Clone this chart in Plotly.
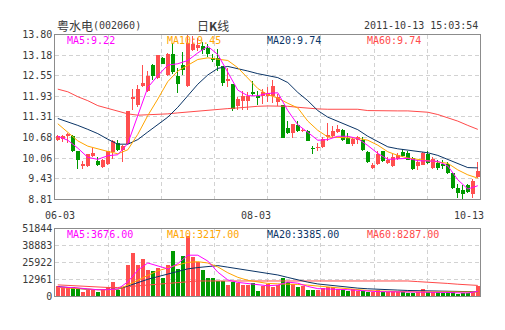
import plotly.graph_objects as go

# ---------------- data ----------------
idx = list(range(85))
opens = [10.60, 10.64, 10.73, 10.74, 10.26, 9.81, 9.81, 10.13, 9.98, 9.79,
         9.87, 10.23, 10.53, 10.30, 10.48, 11.85, 11.66, 12.25, 12.10, 12.89,
         12.49, 13.08, 12.59, 13.23, 12.54, 12.89, 12.25, 13.33, 13.40, 13.45,
         13.41, 13.11, 13.08, 12.84, 12.41, 12.30, 11.64, 11.80, 11.78, 12.05,
         11.93, 11.93, 11.95, 11.95, 11.76, 11.66, 10.97, 10.82, 11.07, 10.87,
         10.87, 10.36, 10.36, 10.38, 10.69, 10.72, 10.85, 10.92, 10.67, 10.48,
         10.62, 10.62, 10.23, 9.77, 9.87, 10.26, 9.91, 9.81, 10.04, 10.23,
         10.20, 10.06, 9.81, 9.84, 10.18, 9.77, 9.91, 9.89, 9.87, 9.61,
         9.15, 9.10, 9.25, 8.98, 9.49]
closes = [10.72, 10.74, 10.80, 10.28, 10.01, 9.89, 10.18, 10.20, 9.84, 10.00,
          10.26, 10.58, 10.30, 10.43, 11.49, 11.90, 12.15, 12.33, 12.56, 12.56,
          13.18, 12.92, 13.21, 12.66, 12.30, 12.74, 13.55, 13.52, 13.48, 13.35,
          13.21, 13.03, 12.84, 12.33, 12.46, 11.56, 11.85, 11.95, 11.95, 11.99,
          11.87, 12.05, 12.02, 12.25, 11.90, 10.67, 10.82, 11.09, 10.87, 10.91,
          10.59, 10.32, 10.40, 10.65, 10.77, 10.89, 10.95, 10.62, 10.50, 10.65,
          10.69, 10.30, 9.94, 9.86, 10.18, 9.97, 10.01, 10.10, 10.16, 10.13,
          9.99, 9.74, 9.94, 10.20, 9.91, 10.03, 9.77, 9.81, 9.61, 9.15,
          9.00, 8.98, 9.02, 9.35, 9.67]
highs = [10.75, 10.76, 10.83, 10.76, 10.28, 9.97, 10.19, 10.36, 10.08, 10.02,
         10.27, 10.60, 10.60, 10.45, 11.50, 12.15, 12.27, 12.87, 12.69, 12.91,
         13.19, 13.13, 13.24, 13.55, 12.79, 13.28, 13.80, 13.75, 13.70, 13.58,
         13.53, 13.23, 13.38, 12.86, 12.79, 12.32, 11.90, 12.10, 12.05, 12.39,
         12.10, 12.15, 12.20, 12.42, 12.00, 11.68, 11.17, 11.10, 11.18, 10.97,
         10.92, 10.43, 10.53, 10.70, 11.12, 11.02, 11.05, 10.93, 10.82, 10.69,
         10.72, 10.69, 10.28, 9.91, 10.28, 10.26, 10.08, 10.18, 10.20, 10.33,
         10.28, 10.10, 9.99, 10.23, 10.26, 10.10, 9.99, 10.01, 9.94, 9.63,
         9.28, 9.25, 9.28, 9.42, 9.93]
lows = [10.58, 10.56, 10.53, 10.24, 9.74, 9.74, 9.79, 10.08, 9.81, 9.77,
        9.85, 10.02, 10.27, 9.93, 10.46, 11.51, 11.61, 12.22, 12.05, 12.44,
        12.45, 12.90, 12.55, 12.62, 12.03, 12.59, 12.22, 13.30, 13.30, 13.22,
        13.13, 12.98, 12.69, 12.25, 12.20, 11.50, 11.51, 11.51, 11.51, 11.93,
        11.66, 11.71, 11.75, 11.72, 11.64, 10.66, 10.80, 10.67, 10.86, 10.84,
        10.57, 10.18, 10.28, 10.36, 10.58, 10.67, 10.82, 10.57, 10.48, 10.43,
        10.48, 10.26, 9.91, 9.74, 9.84, 9.94, 9.89, 9.79, 9.99, 10.09,
        9.99, 9.71, 9.69, 9.84, 9.89, 9.74, 9.69, 9.74, 9.59, 9.12,
        8.86, 8.81, 9.00, 8.85, 9.44]
volumes = [7700, 7200, 6700, 6700, 6200, 3500, 4700, 4700, 3500, 4700,
           7200, 10900, 4700, 6700, 23600, 33300, 23600, 28300, 20400, 19600,
           21600, 14200, 23600, 34500, 20900, 31000, 46400, 30300, 26100, 19900,
           13700, 13700, 11700, 11700, 8400, 11200, 10400, 8700, 8400, 10400,
           4200, 7900, 9200, 7200, 8700, 13700, 10900, 9700, 6700, 7900,
           5000, 5000, 4700, 6000, 7200, 6700, 5500, 5000, 4200, 5500,
           3700, 3700, 3000, 3000, 4700, 3500, 3000, 4200, 3000, 3000,
           2500, 2500, 3000, 5500, 3000, 3000, 3500, 2500, 3000, 3000,
           1700, 2500, 2500, 3500, 8000]

# moving-average lines, read at every second session
ma_idx = list(range(0, 85, 2))
ma5 = [10.72, 10.60, 10.36, 10.08, 10.02, 10.13, 10.16, 10.50, 11.35, 12.20,
       12.56, 12.88, 12.92, 13.02, 13.25, 13.45, 13.20, 12.65, 12.12, 11.95,
       11.95, 12.02, 12.04, 11.50, 11.07, 10.84, 10.60, 10.62, 10.72, 10.72,
       10.65, 10.44, 10.20, 10.02, 10.03, 10.05, 9.98, 9.97, 9.96, 9.82,
       9.40, 9.12, 9.22]
ma10 = [11.10, 10.85, 10.58, 10.42, 10.33, 10.26, 10.19, 10.31, 10.78, 11.35,
        11.85, 12.38, 12.70, 12.88, 13.05, 13.10, 13.07, 13.02, 12.80, 12.47,
        12.17, 11.98, 11.88, 11.72, 11.58, 11.18, 10.90, 10.70, 10.69, 10.68,
        10.66, 10.60, 10.45, 10.25, 10.14, 10.06, 10.02, 9.99, 9.96, 9.90,
        9.70, 9.55, 9.45]
ma20 = [11.26, 11.16, 11.05, 10.93, 10.80, 10.63, 10.48, 10.48, 10.62, 10.85,
        11.08, 11.30, 11.60, 11.95, 12.30, 12.58, 12.78, 12.84, 12.78, 12.70,
        12.62, 12.56, 12.50, 12.35, 12.05, 11.80, 11.50, 11.30, 11.18, 11.05,
        10.92, 10.72, 10.55, 10.40, 10.34, 10.30, 10.26, 10.22, 10.14, 10.02,
        9.88, 9.77, 9.76]
ma60 = [12.15, 12.07, 11.92, 11.80, 11.65, 11.56, 11.48, 11.40, 11.36, 11.37,
        11.38, 11.40, 11.43, 11.46, 11.49, 11.51, 11.54, 11.56, 11.58, 11.61,
        11.63, 11.64, 11.64, 11.63, 11.60, 11.57, 11.55, 11.54, 11.54, 11.54,
        11.54, 11.50, 11.49, 11.49, 11.49, 11.49, 11.47, 11.45, 11.38, 11.28,
        11.18, 11.05, 10.93]
vma5 = [7200, 6900, 6400, 5600, 5000, 5000, 5500, 11000, 20000, 25500,
        23000, 21000, 25000, 31500, 31500, 27000, 18500, 12500, 10600, 9600,
        8700, 8000, 8500, 10800, 10000, 7500, 5800, 5600, 5600, 5000,
        4500, 3800, 3500, 3400, 3400, 3100, 3100, 3300, 3200, 2900,
        2600, 2500, 3676]
vma10 = [6700, 6200, 5700, 5300, 5000, 5000, 5300, 8500, 12500, 16000,
         19500, 22000, 24000, 26000, 26500, 25500, 22500, 18000, 14500, 12200,
         11000, 9800, 9500, 9500, 9000, 8500, 7800, 6800, 6000, 5400,
         5000, 4400, 4000, 3700, 3600, 3500, 3400, 3400, 3400, 3300,
         3100, 3000, 3217]
vma20 = [7400, 6700, 5800, 5300, 5000, 5000, 5400, 7800, 10500, 13000,
         15000, 17000, 19000, 21000, 22000, 22800, 23500, 22300, 21000, 19800,
         18700, 17500, 16300, 14400, 12500, 10800, 9400, 8500, 7500, 6800,
         6200, 5700, 5200, 4900, 4700, 4400, 4200, 3900, 3700, 3600,
         3500, 3450, 3385]
vma60 = [8700, 8300, 7900, 7300, 6800, 6700, 6700, 7300, 8000, 8800,
         9300, 10000, 10600, 11200, 11700, 11700, 11700, 11800, 11800, 11800,
         11800, 11800, 11800, 11800, 11800, 11700, 11700, 11700, 11700, 11700,
         11700, 11700, 11700, 11700, 11700, 11700, 11200, 10900, 10400, 9800,
         9200, 8800, 8287]

price_ticks = [8.81, 9.43, 10.06, 10.68, 11.31, 11.93, 12.55, 13.18, 13.80]
price_tick_text = ["8.81", "9.43", "10.06", "10.68", "11.31", "11.93", "12.55", "13.18", "13.80"]
vol_ticks = [0, 12961, 25922, 38883, 51844]
vol_tick_text = ["0", "12961", "25922", "38883", "51844"]
date_labels = ["06-03", "08-03", "10-13"]
date_label_pos = [0.4, 39.7, 82.3]

price_legend = ["MA5:9.22", "MA10:9.45", "MA20:9.74", "MA60:9.74"]
vol_legend = ["MA5:3676.00", "MA10:3217.00", "MA20:3385.00", "MA60:8287.00"]
stock_name = "粤水电"
stock_code = "(002060)"
chart_kind = "日<b>K</b>线"
timestamp = "2011-10-13 15:03:54"

# ---------------- styling ----------------
W, H = 505, 330
RED = "#ff4f4f"
GREEN = "#009a00"
MA_COLORS = ["#ff00ff", "#ffa500", "#0a3466", "#ff4a4a"]
GRID = "#d2d2d2"
BORDER = "#8c8c8c"
MONO = "DejaVu Sans Mono"
CJK = "Noto Sans CJK SC"
TXT = "#3a3a3a"


def fx(p):
    return p / W


def fy(p):
    return 1 - p / H


colors = [RED if c >= o else GREEN for o, c in zip(opens, closes)]

fig = go.Figure()

# wicks
fig.add_trace(go.Bar(x=idx, y=[h - l for h, l in zip(highs, lows)], base=lows,
                     width=0.2, marker=dict(color=colors, line_width=0),
                     xaxis="x", yaxis="y", hoverinfo="skip"))
# bodies
fig.add_trace(go.Bar(x=idx,
                     y=[max(abs(c - o), 0.015) for o, c in zip(opens, closes)],
                     base=[min(o, c) for o, c in zip(opens, closes)],
                     width=0.8, marker=dict(color=colors, line_width=0),
                     xaxis="x", yaxis="y", hoverinfo="skip"))

for series, col in zip([ma60, ma20, ma10, ma5], MA_COLORS[::-1]):
    fig.add_trace(go.Scatter(x=ma_idx, y=series, mode="lines",
                             line=dict(color=col, width=1),
                             xaxis="x", yaxis="y", hoverinfo="skip"))

# volume
fig.add_trace(go.Bar(x=idx, y=volumes, width=0.8,
                     marker=dict(color=colors, line_width=0),
                     xaxis="x2", yaxis="y2", hoverinfo="skip"))
for series, col in zip([vma60, vma20, vma10, vma5], MA_COLORS[::-1]):
    fig.add_trace(go.Scatter(x=ma_idx, y=series, mode="lines",
                             line=dict(color=col, width=1),
                             xaxis="x2", yaxis="y2", hoverinfo="skip"))

grid_x = [-0.5 + 85 / 8 * k for k in range(1, 8)]
xdom = [fx(55.3), fx(480.3)]
axis_common = dict(showline=True, mirror=True, linecolor=BORDER, linewidth=1,
                   zeroline=False, gridcolor=GRID, griddash="4px,3px",
                   gridwidth=1, ticks="", fixedrange=True)

fig.update_layout(
    width=W, height=H, autosize=False,
    margin=dict(l=0, r=0, t=0, b=0),
    paper_bgcolor="white", plot_bgcolor="white",
    showlegend=False, barmode="overlay", bargap=0,
    xaxis=dict(domain=xdom, range=[-0.5, 84.5], anchor="y",
               tickvals=grid_x, showticklabels=False, **axis_common),
    yaxis=dict(domain=[fy(200.3), fy(30.7)], range=[8.81, 13.80], anchor="x",
               tickvals=price_ticks, ticktext=price_tick_text,
               tickfont=dict(family=MONO, size=10, color=TXT), **axis_common),
    xaxis2=dict(domain=xdom, range=[-0.5, 84.5], anchor="y2", matches="x",
                tickvals=grid_x, showticklabels=False, **axis_common),
    yaxis2=dict(domain=[fy(300.3), fy(230.7)], range=[0, 51844], anchor="x2",
                tickvals=vol_ticks, ticktext=vol_tick_text,
                tickfont=dict(family=MONO, size=10, color=TXT), **axis_common),
)

ann = []
# header
ann.append(dict(text=stock_name, x=fx(55), y=fy(21.5), xref="paper", yref="paper",
                xanchor="left", yanchor="middle", showarrow=False,
                font=dict(family=CJK, size=12, color=TXT)))
ann.append(dict(text=stock_code, x=fx(91), y=fy(21.5), xref="paper", yref="paper",
                xanchor="left", yanchor="middle", showarrow=False,
                font=dict(family=MONO, size=10, color=TXT)))
ann.append(dict(text=chart_kind, x=fx(212.5), y=fy(21.5), xref="paper", yref="paper",
                xanchor="center", yanchor="middle", showarrow=False,
                font=dict(family=CJK, size=12, color=TXT)))
ann.append(dict(text=timestamp, x=fx(479.5), y=fy(21.5), xref="paper", yref="paper",
                xanchor="right", yanchor="middle", showarrow=False,
                font=dict(family=MONO, size=10, color=TXT)))
# MA legends
for k, (t1, t2, col) in enumerate(zip(price_legend, vol_legend, MA_COLORS)):
    ann.append(dict(text=t1, x=fx(65 + 100 * k), y=fy(36.8), xref="paper", yref="paper",
                    xanchor="left", yanchor="middle", showarrow=False,
                    font=dict(family=MONO, size=10, color=col)))
    ann.append(dict(text=t2, x=fx(65 + 100 * k), y=fy(236.5), xref="paper", yref="paper",
                    xanchor="left", yanchor="middle", showarrow=False,
                    font=dict(family=MONO, size=10, color=col)))
# date labels
for t, p in zip(date_labels, date_label_pos):
    ann.append(dict(text=t, x=p, y=fy(217), xref="x", yref="paper",
                    xanchor="center", yanchor="middle", showarrow=False,
                    font=dict(family=MONO, size=10, color=TXT)))
fig.update_layout(annotations=ann)

fig.write_html("out.html", config={"displayModeBar": False, "staticPlot": True})
